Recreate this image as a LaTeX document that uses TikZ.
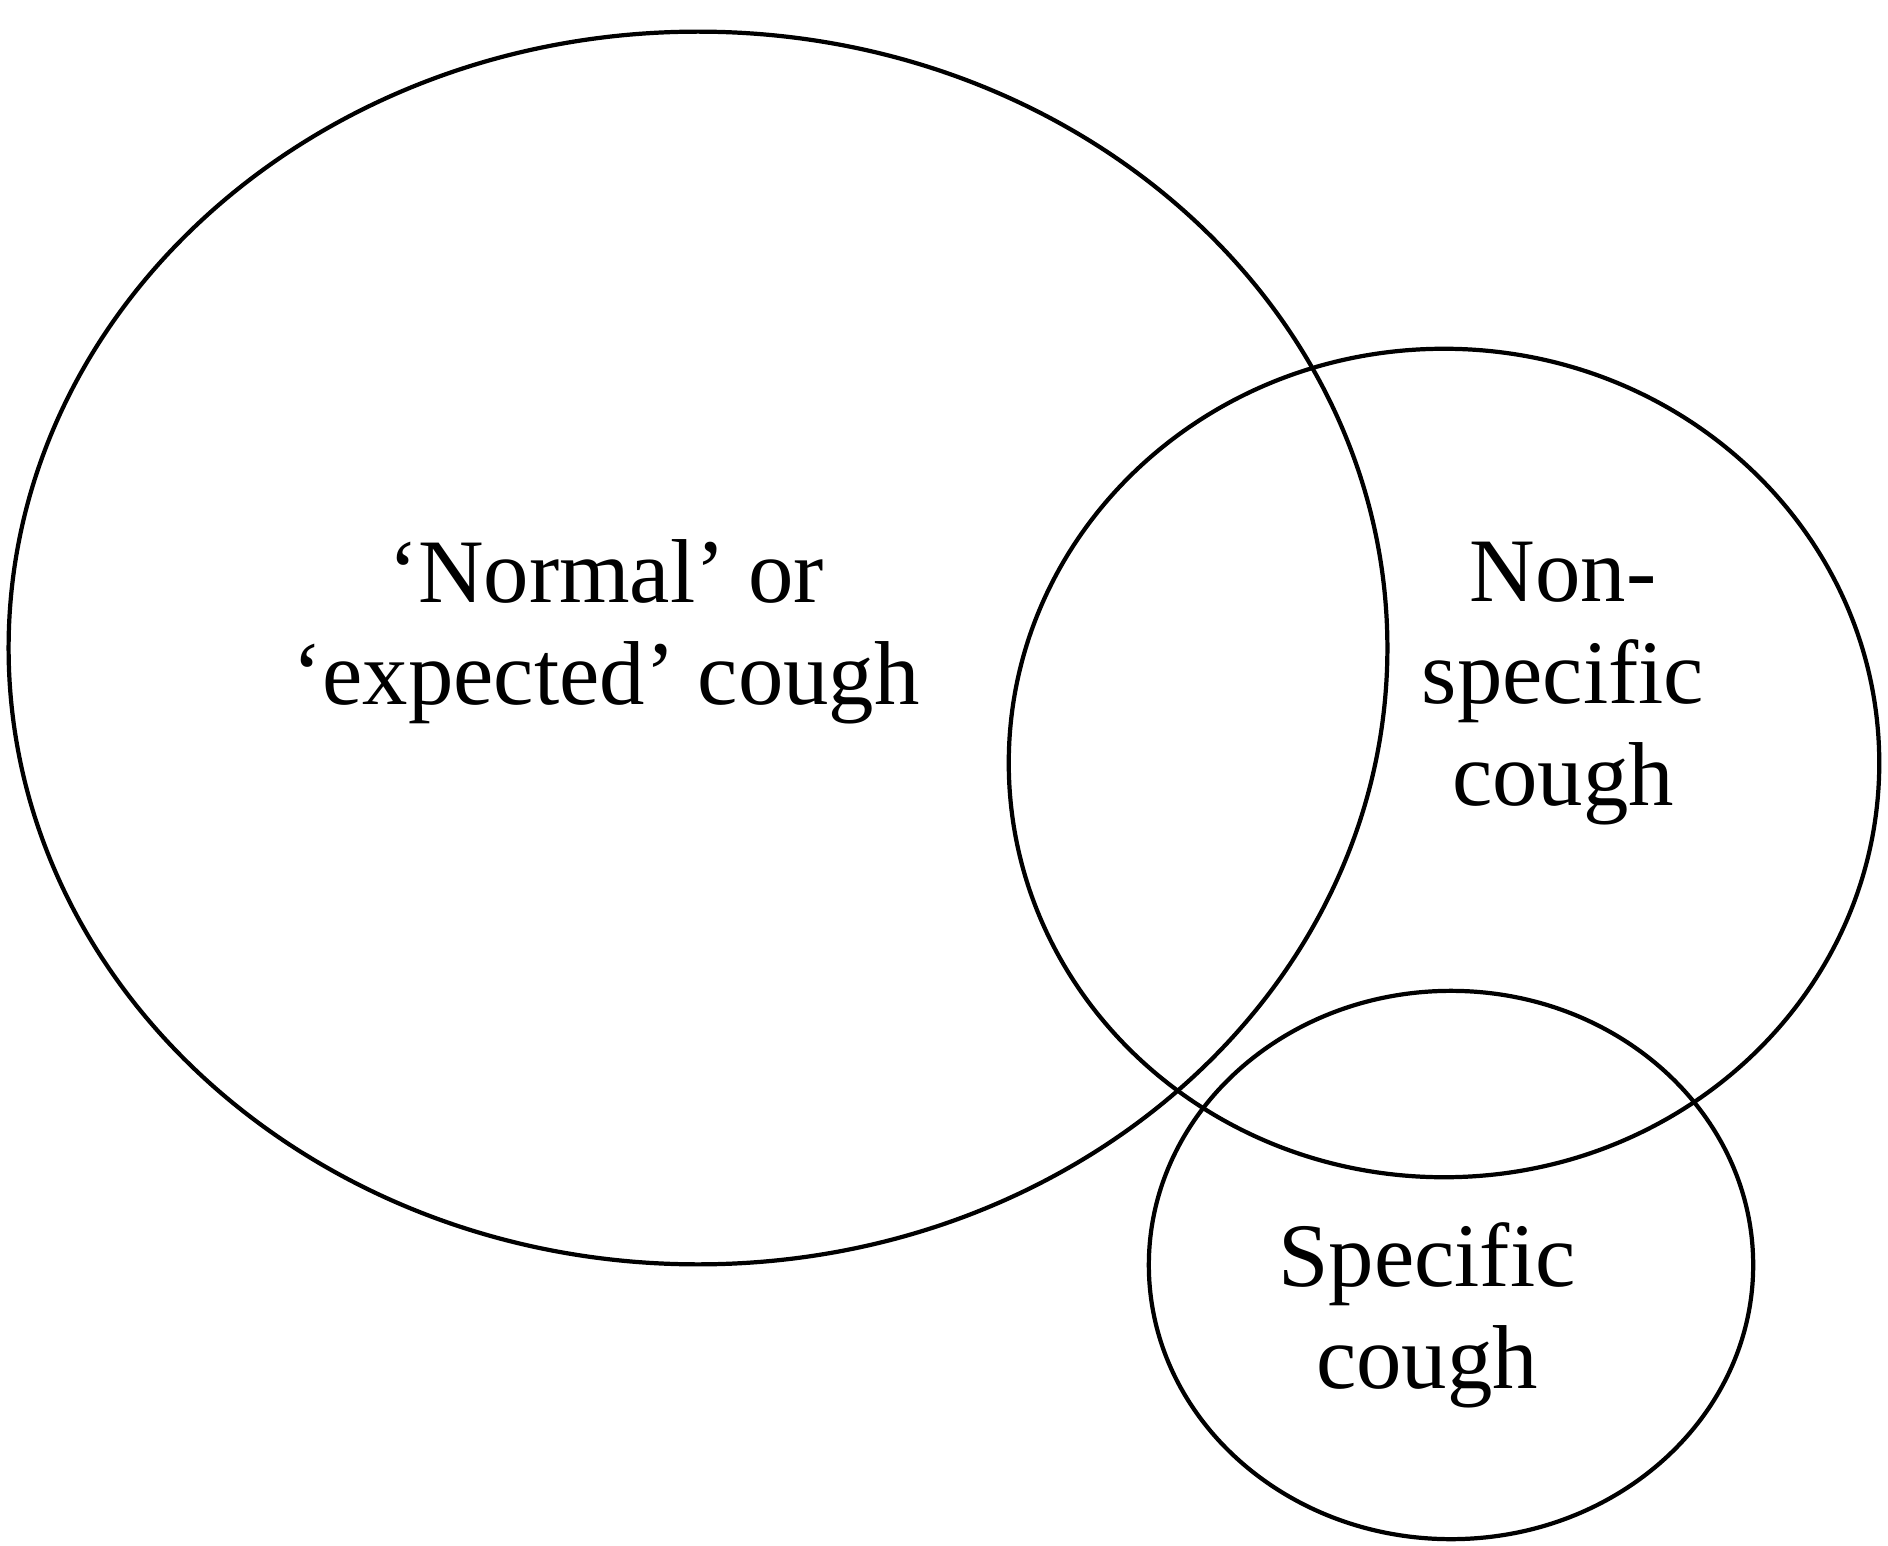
\documentclass[tikz,border=0pt]{standalone}
\usepackage{fontspec}
\setmainfont{Liberation Serif}
\usepackage{tikz}
\usetikzlibrary{shapes.geometric}

\begin{document}
\begin{tikzpicture}[x=0.01cm, y=-0.01cm,
    set/.style={ellipse, draw=black, line width=1.2pt, inner sep=0pt},
    lbl/.style={align=center, inner sep=0pt, font=\fontsize{25.8}{29}\selectfont}
]
\useasboundingbox (0,0) rectangle (1888,1546);
\node[set, minimum width=13.78cm, minimum height=12.32cm] (normal) at (698,648) {};
\node[set, minimum width=8.70cm, minimum height=8.28cm] (nonspec) at (1444,763) {};
\node[set, minimum width=6.04cm, minimum height=5.48cm] (spec) at (1451,1265) {};

\node[lbl] (normaltxt) at (606,632) {`Normal' or\\`expected' cough};
\node[lbl] (nonspectxt) at (1563,684) {Non-\\specific\\cough};
\node[lbl] (spectxt) at (1427,1315) {Specific\\cough};
\end{tikzpicture}
\end{document}
